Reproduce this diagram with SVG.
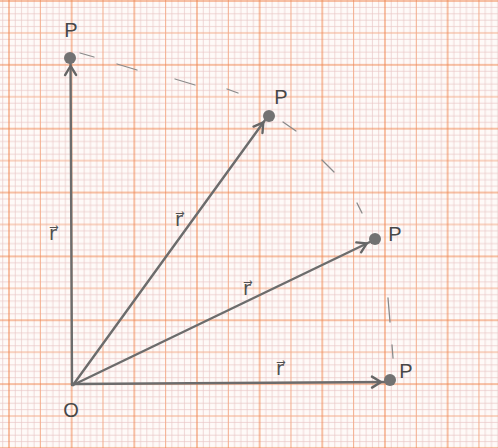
<svg xmlns="http://www.w3.org/2000/svg" width="498" height="448" viewBox="0 0 498 448">
<defs>
<style>
.minor{stroke:#e8c6c4;stroke-width:0.7;fill:none}
.mid{stroke:#f3ab8a;stroke-width:1;fill:none}
.major{stroke:#f08650;stroke-width:1;fill:none}
.vec{stroke:#6c6c6c;stroke-width:2.4;fill:none;stroke-linecap:round}
.dot{fill:#727272}
.arc{stroke:#8a8a8a;stroke-width:1.3;fill:none;stroke-linecap:round}
.lbl{font-family:"Liberation Sans",Arial,sans-serif;font-size:20px;fill:#474747}
.rl{font-family:"DejaVu Sans",sans-serif;font-size:19px;fill:#505050}
</style>
<pattern id="grid" patternUnits="userSpaceOnUse" x="9" y="1" width="62.66" height="63.85">
<path class="minor" d="M6.27,0V63.85M12.53,0V63.85M18.8,0V63.85M25.06,0V63.85M37.6,0V63.85M43.86,0V63.85M50.13,0V63.85M56.39,0V63.85M0,6.39H62.66M0,12.77H62.66M0,19.16H62.66M0,25.54H62.66M0,38.31H62.66M0,44.7H62.66M0,51.08H62.66M0,57.47H62.66"/>
<path class="mid" d="M31.33,0V63.85M0,31.93H62.66"/>
<path class="major" d="M0,0V63.85M62.66,0V63.85M0,0H62.66M0,63.85H62.66"/>
</pattern>
<marker id="ah" markerUnits="userSpaceOnUse" orient="auto" markerWidth="30" markerHeight="20" viewBox="-20 -10 30 20" refX="8" refY="0">
<path d="M-9,-5.5 L0,0 L-9,5.5" stroke="#666" stroke-width="2.4" fill="none" stroke-linecap="round" stroke-linejoin="round"/>
</marker>
</defs>
<rect width="498" height="448" fill="#fefaf8"/>
<rect width="498" height="448" fill="url(#grid)"/>
<g id="connectors">
<line class="vec" x1="72" y1="385" x2="70.5" y2="58" marker-end="url(#ah)"/>
<line class="vec" x1="73" y1="385" x2="268" y2="116" marker-end="url(#ah)"/>
<line class="vec" x1="73" y1="385" x2="374" y2="240" marker-end="url(#ah)"/>
<line class="vec" x1="72" y1="384" x2="389" y2="382" marker-end="url(#ah)"/>
<g id="arc">
<path class="arc" d="M80,53 L94,57"/>
<path class="arc" d="M117,64 L137,70"/>
<path class="arc" d="M175,79 L195,85"/>
<path class="arc" d="M227,89 L238,93"/>
<path class="arc" d="M283,122 L296,131"/>
<path class="arc" d="M322,160 L334,172"/>
<path class="arc" d="M357,203 L362,213"/>
<path class="arc" d="M388,298 L390,322"/>
<path class="arc" d="M392,345 L393,358"/>
</g>
</g>
<g id="P1"><circle class="dot" cx="70" cy="58" r="6"/><text class="lbl" x="71" y="37" text-anchor="middle">P</text></g>
<g id="P2"><circle class="dot" cx="269" cy="116" r="6"/><text class="lbl" x="281" y="104" text-anchor="middle">P</text></g>
<g id="P3"><circle class="dot" cx="375" cy="239" r="6"/><text class="lbl" x="395" y="241" text-anchor="middle">P</text></g>
<g id="P4"><circle class="dot" cx="390" cy="380" r="6"/><text class="lbl" x="406" y="378" text-anchor="middle" font-size="16">P</text></g>
<g id="O"><text class="lbl" x="71" y="417" text-anchor="middle" font-size="22">O</text></g>
<g id="labels">
<text class="rl" x="53" y="240" text-anchor="middle">r⃗</text>
<text class="rl" x="179" y="226" text-anchor="middle">r⃗</text>
<text class="rl" x="247" y="295" text-anchor="middle">r⃗</text>
<text class="rl" x="280" y="375" text-anchor="middle">r⃗</text>
</g>
</svg>
